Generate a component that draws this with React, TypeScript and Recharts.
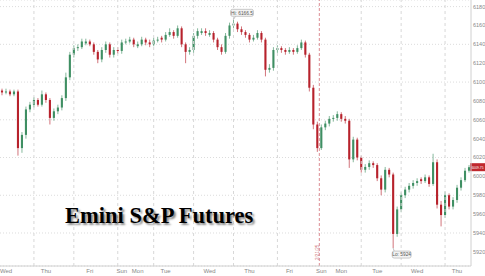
import React from "react";
import {
  ComposedChart, Bar, XAxis, YAxis, CartesianGrid, ReferenceLine, ReferenceDot,
} from "recharts";

const GREEN = "#3f8f63";
const RED = "#b7222c";

// session candles, left to right
const opens = [
  6091, 6089, 6090, 6087, 6090, 6030, 6044, 6071, 6076, 6081, 6076, 6087, 6081, 6062, 6069, 6073, 6083, 6105, 6129, 6136,
  6137, 6141, 6143, 6140, 6132, 6124, 6134, 6140, 6129, 6134, 6133, 6142, 6143, 6145, 6138, 6140, 6145, 6142, 6140, 6144,
  6147, 6145, 6150, 6153, 6149, 6157, 6140, 6132, 6134, 6149, 6152, 6154, 6150, 6152, 6145, 6137, 6132, 6149, 6160, 6162,
  6156, 6153, 6150, 6145, 6147, 6152, 6145, 6113, 6115, 6134, 6136, 6134, 6132, 6134, 6132, 6136, 6142, 6129, 6094, 6055,
  6030, 6052, 6056, 6061, 6062, 6066, 6061, 6059, 6018, 6039, 6020, 6007, 6010, 6014, 6012, 5998, 5986, 6007, 6002, 5939,
  5965, 5980, 5986, 5990, 5993, 5997, 5995, 5999, 5992, 6015, 5970, 5959, 5980, 5968, 5975, 5988, 5996, 6006,
];
const highs = [
  6093, 6093, 6092, 6092, 6092, 6047, 6074, 6079, 6084, 6083, 6091, 6089, 6083, 6072, 6076, 6086, 6110, 6132, 6139, 6140,
  6146, 6146, 6145, 6142, 6134, 6137, 6143, 6142, 6137, 6137, 6145, 6146, 6148, 6147, 6143, 6148, 6147, 6145, 6147, 6148,
  6149, 6153, 6157, 6155, 6160, 6159, 6142, 6137, 6152, 6157, 6157, 6157, 6155, 6154, 6147, 6140, 6152, 6163, 6166.5, 6164,
  6159, 6155, 6152, 6150, 6155, 6154, 6147, 6119, 6137, 6139, 6138, 6136, 6137, 6136, 6139, 6145, 6144, 6131, 6097, 6058,
  6055, 6059, 6064, 6065, 6069, 6068, 6064, 6061, 6042, 6041, 6022, 6013, 6017, 6016, 6014, 6001, 6010, 6009, 6004, 5968,
  5983, 5989, 5993, 5996, 5998, 5999, 6002, 6001, 6024, 6018, 5974, 5984, 5982, 5978, 5991, 5999, 6009, 6012,
];
const lows = [
  6086, 6087, 6085, 6085, 6022, 6025, 6040, 6068, 6073, 6074, 6074, 6078, 6055, 6059, 6066, 6070, 6080, 6102, 6126, 6133,
  6135, 6139, 6138, 6129, 6120, 6121, 6131, 6126, 6126, 6130, 6130, 6140, 6141, 6137, 6136, 6138, 6139, 6137, 6138, 6142,
  6142, 6143, 6148, 6146, 6147, 6137, 6120, 6129, 6131, 6146, 6150, 6149, 6148, 6142, 6134, 6129, 6130, 6146, 6157, 6153,
  6150, 6147, 6142, 6143, 6145, 6142, 6106, 6110, 6112, 6131, 6131, 6129, 6130, 6129, 6130, 6134, 6126, 6090, 6050, 6026,
  6028, 6049, 6053, 6058, 6059, 6058, 6056, 6009, 6015, 6017, 6004, 6004, 6007, 6009, 5995, 5980, 5983, 5999, 5924, 5936,
  5962, 5977, 5983, 5987, 5990, 5992, 5993, 5989, 5990, 5966, 5947, 5956, 5965, 5965, 5972, 5985, 5994, 6004,
];
const closes = [
  6089, 6090, 6087, 6090, 6030, 6044, 6071, 6076, 6081, 6076, 6087, 6081, 6062, 6069, 6073, 6083, 6105, 6129, 6136, 6137,
  6143, 6143, 6140, 6132, 6124, 6134, 6140, 6129, 6134, 6133, 6142, 6143, 6145, 6140, 6140, 6145, 6142, 6140, 6144, 6145,
  6145, 6150, 6153, 6149, 6157, 6140, 6132, 6134, 6149, 6154, 6154, 6152, 6152, 6145, 6137, 6132, 6149, 6160, 6162, 6156,
  6153, 6150, 6145, 6147, 6152, 6145, 6113, 6115, 6134, 6136, 6134, 6132, 6134, 6132, 6136, 6142, 6129, 6094, 6055, 6030,
  6052, 6056, 6061, 6062, 6066, 6061, 6059, 6018, 6039, 6020, 6007, 6010, 6014, 6012, 5998, 5986, 6007, 6002, 5939, 5965,
  5980, 5986, 5990, 5993, 5995, 5995, 5999, 5992, 6015, 5970, 5959, 5980, 5968, 5975, 5988, 5996, 6006, 6009.75,
];

const DAY_TICKS = [1, 11, 22, 30, 34, 41, 52, 62, 72, 80, 85, 94, 104, 114];
const DAY_LABELS = ["Wed", "Thu", "Fri", "Sun", "Mon", "Tue", "Wed", "Thu", "Fri", "Sun", "Mon", "Tue", "Wed", "Thu"];
const SESSION_BREAKS = [8, 18, 29, 38, 48, 58, 69, 90, 100, 111];
const Y_TICKS = [5920, 5940, 5960, 5980, 6000, 6020, 6040, 6060, 6080, 6100, 6120, 6140, 6160, 6180];

const HI = { i: 58, value: 6166.5 };
const LO = { i: 98, value: 5924 };
const MARK = { i: 79, text: "2/21/25" };
const LAST = 6009.75;

const data = closes.map((c, i) => ({
  i, o: opens[i], h: highs[i], l: lows[i], c, range: [lows[i], highs[i]],
}));

function Candle(props: any) {
  const { x, y, width, height, payload } = props;
  const { o, h, l, c } = payload;
  const color = c >= o ? GREEN : RED;
  const ratio = h === l ? 0 : Math.abs(height) / (h - l);
  const cx = x + width / 2;
  const top = y + (h - Math.max(o, c)) * ratio;
  const bh = Math.max(1, Math.abs(o - c) * ratio);
  const bw = 2.1;
  return (
    <g>
      <line x1={cx} x2={cx} y1={y} y2={y + Math.abs(height)} stroke={color} strokeOpacity={0.7} strokeWidth={0.9} />
      <rect x={cx - bw / 2} y={top} width={bw} height={bh} fill={color} />
    </g>
  );
}

function HiTag(props: any) {
  const { cx, cy } = props;
  const bx = cx - 3;
  return (
    <g>
      <line x1={cx} x2={cx + 2} y1={cy} y2={cy - 3} stroke="#999" strokeWidth={0.6} />
      <rect x={bx} y={cy - 10} width={23} height={7} rx={2} fill="#f3f3f3" stroke="#aaa" strokeWidth={0.6} />
      <text x={bx + 11.5} y={cy - 6.5} dy="0.35em" textAnchor="middle" fontSize={4.8} fill="#555" fontFamily="Arial, sans-serif">
        {`Hi: ${HI.value}`}
      </text>
    </g>
  );
}

function LoTag(props: any) {
  const { cx, cy } = props;
  const bx = cx - 1;
  return (
    <g>
      <line x1={cx} x2={cx + 1} y1={cy} y2={cy + 3} stroke="#999" strokeWidth={0.6} />
      <rect x={bx} y={cy + 3} width={19} height={7} rx={2} fill="#f3f3f3" stroke="#aaa" strokeWidth={0.6} />
      <text x={bx + 9.5} y={cy + 6.5} dy="0.35em" textAnchor="middle" fontSize={4.8} fill="#555" fontFamily="Arial, sans-serif">
        {`Lo: ${LO.value}`}
      </text>
    </g>
  );
}

function PriceTag(props: any) {
  const { x, y, width } = props.viewBox;
  const left = x + width - 1;
  return (
    <g>
      <rect x={left} y={y - 4} width={15} height={8} fill="#c0272d" />
      <text
        x={left + 1.5} y={y} dy="0.35em" fontSize={4} fill="#fff" fontFamily="Arial, sans-serif"
        textLength={12} lengthAdjust="spacingAndGlyphs"
      >
        {LAST.toFixed(2)}
      </text>
    </g>
  );
}

function MarkLabel(props: any) {
  const { x, y, height } = props.viewBox;
  const bx = x - 0.8;
  const by = y + height - 6;
  return (
    <text x={bx} y={by} transform={`rotate(-90 ${bx} ${by})`} fontSize={4.6} fill="#d07c82" fontFamily="Arial, sans-serif">
      {MARK.text}
    </text>
  );
}

export default function App() {
  return (
    <div style={{ position: "absolute", left: 0, top: 0, width: 485, height: 276, background: "#fff" }}>
      <ComposedChart width={485} height={276} data={data} margin={{ top: 0, right: 0, left: 0, bottom: 0 }} barCategoryGap="0%">
        <CartesianGrid vertical={false} stroke="#dcdcdc" strokeDasharray="1 2" />
        <XAxis
          dataKey="i"
          ticks={DAY_TICKS}
          interval={0}
          tickFormatter={(v: number) => DAY_LABELS[DAY_TICKS.indexOf(v)]}
          height={10}
          tickSize={0}
          tickMargin={3}
          axisLine={{ stroke: "#d0d0d0" }}
          tick={{ fontSize: 6, fill: "#888", fontFamily: "Arial, sans-serif" }}
        />
        <YAxis
          orientation="right"
          domain={[5905, 6187]}
          ticks={Y_TICKS}
          allowDataOverflow
          width={14}
          tickSize={0}
          tickMargin={2}
          axisLine={{ stroke: "#d0d0d0" }}
          tick={{ fontSize: 5.5, fill: "#888", fontFamily: "Arial, sans-serif" }}
        />
        {SESSION_BREAKS.map((b) => (
          <ReferenceLine key={b} x={b} stroke="#d8d8d8" strokeDasharray="3 3" />
        ))}
        <ReferenceLine x={MARK.i} position="end" stroke="#dc8c92" strokeDasharray="3 2" label={(p: any) => <MarkLabel {...p} />} />
        <Bar dataKey="range" isAnimationActive={false} shape={(p: any) => <Candle {...p} />} />
        <ReferenceLine y={LAST} stroke="none" label={(p: any) => <PriceTag {...p} />} />
        <ReferenceDot x={HI.i} y={HI.value} r={0} shape={(p: any) => <HiTag {...p} />} />
        <ReferenceDot x={LO.i} y={LO.value} r={0} shape={(p: any) => <LoTag {...p} />} />
      </ComposedChart>
      <div
        style={{
          position: "absolute", left: 65, top: 204, whiteSpace: "nowrap",
          fontFamily: "'Liberation Serif', 'Times New Roman', serif", fontWeight: 700,
          fontSize: 22.5, lineHeight: "23px", color: "#000",
          textShadow: "2px 2px 2px rgba(0,0,0,0.45)",
        }}
      >
        {"Emini S&P Futures"}
      </div>
    </div>
  );
}
